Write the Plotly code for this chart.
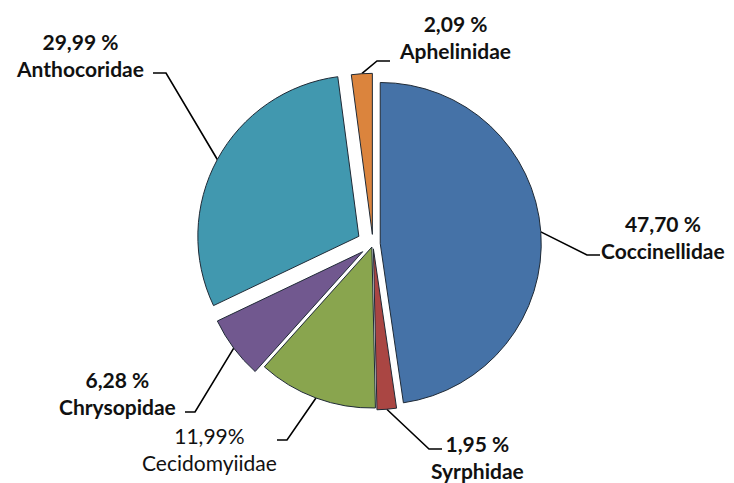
import math
import plotly.graph_objects as go

# ---- data ----
families = ["Coccinellidae", "Syrphidae", "Cecidomyiidae", "Chrysopidae", "Anthocoridae", "Aphelinidae"]
shares = [47.70, 1.95, 11.99, 6.28, 29.99, 2.09]
share_labels = ["47,70 %", "1,95 %", "11,99%", "6,28 %", "29,99 %", "2,09 %"]

# ---- style / layout ----
colors = ["#4572A7", "#AA4643", "#89A54E", "#71588F", "#4198AF", "#DB843D"]
pulls = [0.045, 0.03, 0.02, 0.08, 0.10, 0.06]
bold = [True, True, False, True, True, True]

W, H = 734, 483
OFF = 8  # page body margin of the browser
R = 161.0
CX, CY = 373.0 - OFF, 244.0 - OFF
maxpull = max(pulls)
half = R * (1 + maxpull)
dom_x = [(CX - half) / W, (CX + half) / W]
dom_y = [1 - (CY + half) / H, 1 - (CY - half) / H]

# label layout in screen pixels: text block centre, elbow point, end of horizontal tick
label_layout = {
    "Coccinellidae": dict(text=(663, 237), elbow=(587, 255), end=(600, 255)),
    "Syrphidae": dict(text=(477, 457), elbow=(429, 449), end=(442, 449)),
    "Cecidomyiidae": dict(text=(209, 449), elbow=(287, 440), end=(277, 440)),
    "Chrysopidae": dict(text=(117, 393), elbow=(195, 412), end=(185, 412)),
    "Anthocoridae": dict(text=(80, 55), elbow=(166, 73), end=(153, 73)),
    "Aphelinidae": dict(text=(455, 37), elbow=(377, 61), end=(390, 61)),
}

fig = go.Figure()

fig.add_trace(go.Pie(
    labels=families, values=shares, sort=False, direction="clockwise", rotation=0,
    pull=pulls, textinfo="none", hoverinfo="label+percent",
    marker=dict(colors=colors, line=dict(color="#1f2a36", width=1)),
    domain=dict(x=dom_x, y=dom_y), showlegend=False,
))

# leader lines from slice mid-angle edges
total = sum(shares)
cum = 0.0
for name, v, p, lab, b in zip(families, shares, pulls, share_labels, bold):
    mid = (cum + v / 2) / total * 2 * math.pi
    cum += v
    sx = CX + (R * (1 + p)) * math.sin(mid)
    sy = CY - (R * (1 + p)) * math.cos(mid)
    L = label_layout[name]
    fig.add_trace(go.Scatter(
        x=[sx, L["elbow"][0] - OFF, L["end"][0] - OFF],
        y=[sy, L["elbow"][1] - OFF, L["end"][1] - OFF],
        mode="lines", line=dict(color="black", width=1.6), hoverinfo="skip", showlegend=False,
    ))
    txt = f"{lab}<br>{name}"
    if b:
        txt = f"<b>{lab}</b><br><b>{name}</b>"
    fig.add_annotation(
        x=L["text"][0] - OFF, y=L["text"][1] - OFF, xref="x", yref="y", text=txt, showarrow=False,
        font=dict(family="Lato, Carlito, Calibri, sans-serif", size=21, color="#111111"),
        align="center", xanchor="center", yanchor="middle",
    )

fig.update_layout(
    width=W, height=H, margin=dict(l=0, r=0, t=0, b=0),
    paper_bgcolor="white", plot_bgcolor="rgba(0,0,0,0)",
    xaxis=dict(range=[0, W], visible=False, domain=[0, 1], fixedrange=True),
    yaxis=dict(range=[H, 0], visible=False, domain=[0, 1], fixedrange=True),
    showlegend=False,
)

fig.write_html("out.html")
